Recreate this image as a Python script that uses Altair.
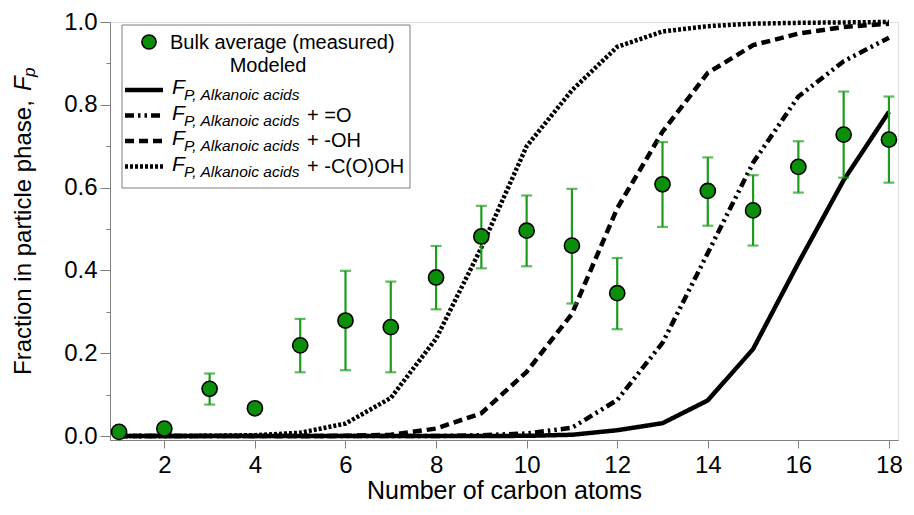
import altair as alt
import pandas as pd

# ---- data ----
carbon = list(range(1, 19))
measured = [0.010, 0.018, 0.114, 0.067, 0.219, 0.279, 0.263, 0.383, 0.482, 0.496,
            0.460, 0.345, 0.608, 0.592, 0.545, 0.650, 0.728, 0.716]
err_lo = [None, None, 0.076, None, 0.154, 0.159, 0.154, 0.306, 0.405, 0.410,
          0.320, 0.258, 0.505, 0.508, 0.460, 0.588, 0.624, 0.612]
err_hi = [None, None, 0.151, None, 0.283, 0.399, 0.373, 0.459, 0.556, 0.581,
          0.597, 0.430, 0.710, 0.673, 0.630, 0.712, 0.832, 0.820]

fp_acids = [0, 0, 0, 0, 0, 0, 0, 0, 0, 0.0005, 0.003, 0.014, 0.031, 0.086,
            0.210, 0.418, 0.618, 0.783]
fp_oxo = [0, 0, 0, 0, 0, 0, 0, 0, 0.002, 0.006, 0.020, 0.087, 0.225, 0.442,
          0.660, 0.820, 0.905, 0.962]
fp_oh = [0, 0, 0, 0, 0, 0.0005, 0.003, 0.018, 0.055, 0.155, 0.295, 0.550,
         0.735, 0.877, 0.944, 0.972, 0.988, 0.996]
fp_cooh = [0, 0, 0.0005, 0.002, 0.008, 0.030, 0.092, 0.235, 0.455, 0.700,
           0.835, 0.940, 0.977, 0.990, 0.996, 0.998, 0.999, 1.0]

series_names = ["acids", "oxo", "oh", "cooh"]
series_values = [fp_acids, fp_oxo, fp_oh, fp_cooh]
legend_suffix = ["", "+ =O", "+ -OH", "+ -C(O)OH"]

# ---- styles ----
FONT = "Liberation Sans"
dash_styles = [[1, 0], [9, 4, 2.5, 4, 2.5, 4], [9, 5], [3, 2]]
GREEN = "#0b8f0b"
BAR_GREEN = "#1c9c1c"
GRAY = "#7f7f7f"

xscale = alt.Scale(domain=[0.8, 18.2], nice=False, zero=False)
yscale = alt.Scale(domain=[-0.0096, 1.0], nice=False, zero=False)

meas_df = pd.DataFrame({"n": carbon, "fp": measured, "lo": err_lo, "hi": err_hi})

xaxis = alt.Axis(values=list(range(2, 19, 2)), title="Number of carbon atoms",
                 tickSize=8, labelPadding=5, titlePadding=1, grid=False,
                 labelFontSize=24, titleFontSize=25, labelFont=FONT, titleFont=FONT,
                 titleFontWeight="normal", labelColor="black", titleColor="black",
                 domainColor=GRAY, tickColor=GRAY, format="d")
yaxis = alt.Axis(values=[round(i * 0.1, 1) for i in range(11)],
                 title=None,
                 labelExpr="round(datum.value*10) % 2 == 0 ? format(datum.value, '.1f') : ''",
                 tickSize={"condition": {"test": "round(datum.value*10) % 2 == 0", "value": 10}, "value": 4},
                 labelPadding=3, grid=False,
                 labelFontSize=24, labelFont=FONT, labelColor="black",
                 domainColor=GRAY, tickColor=GRAY)

layers = []
for name, vals, dash in zip(series_names, series_values, dash_styles):
    df = pd.DataFrame({"n": carbon, "fp": vals})
    layers.append(
        alt.Chart(df).mark_line(color="black", strokeWidth=4.5, strokeDash=dash, strokeCap="butt")
        .encode(x=alt.X("n:Q", scale=xscale, axis=xaxis),
                y=alt.Y("fp:Q", scale=yscale, axis=yaxis))
    )

err = meas_df.dropna()
layers.append(alt.Chart(err).mark_rule(color=BAR_GREEN, strokeWidth=2.2)
              .encode(x="n:Q", y="lo:Q", y2="hi:Q"))
layers.append(alt.Chart(err).mark_tick(color=BAR_GREEN, orient="horizontal", size=11, thickness=2.2)
              .encode(x="n:Q", y="lo:Q"))
layers.append(alt.Chart(err).mark_tick(color=BAR_GREEN, orient="horizontal", size=11, thickness=2.2)
              .encode(x="n:Q", y="hi:Q"))
layers.append(alt.Chart(meas_df).mark_point(shape="circle", filled=True, fill=GREEN, stroke="black",
                                            strokeWidth=1.6, size=230, opacity=1)
              .encode(x="n:Q", y="fp:Q"))

one = pd.DataFrame({"k": [0]})

# ---- y-axis title with italic F and subscript p ----
ytitle = []
ytitle.append(alt.Chart(one).mark_text(text="Fraction in particle phase,", align="left", baseline="middle",
                                       angle=270, font=FONT, fontSize=24, color="black")
              .encode(x=alt.value(-86), y=alt.value(353)))
ytitle.append(alt.Chart(one).mark_text(text="F", align="left", baseline="middle", angle=270,
                                       font=FONT, fontSize=24, fontStyle="italic", color="black")
              .encode(x=alt.value(-86), y=alt.value(69)))
ytitle.append(alt.Chart(one).mark_text(text="p", align="left", baseline="middle", angle=270,
                                       font=FONT, fontSize=17, fontStyle="italic", color="black")
              .encode(x=alt.value(-80), y=alt.value(55)))

# ---- legend (drawn inside plot, pixel positions) ----
leg = []
leg.append(alt.Chart(one).mark_rect(fill="white", stroke=GRAY, strokeWidth=1)
           .encode(x=alt.value(12), x2=alt.value(300), y=alt.value(3), y2=alt.value(166)))
leg.append(alt.Chart(one).mark_point(shape="circle", filled=True, fill=GREEN, stroke="black",
                                     strokeWidth=1.6, size=200, opacity=1)
           .encode(x=alt.value(39), y=alt.value(20)))
leg.append(alt.Chart(one).mark_text(text="Bulk average (measured)", align="left", baseline="middle",
                                    font=FONT, fontSize=20, color="black")
           .encode(x=alt.value(60), y=alt.value(21)))
leg.append(alt.Chart(one).mark_text(text="Modeled", align="center", baseline="middle",
                                    font=FONT, fontSize=20, color="black")
           .encode(x=alt.value(158), y=alt.value(44)))
row_y = [68, 93.5, 119, 144.5]
for ry, dash, suf in zip(row_y, dash_styles, legend_suffix):
    leg.append(alt.Chart(one).mark_rule(color="black", strokeWidth=4.5, strokeDash=dash, strokeCap="butt")
               .encode(x=alt.value(15), x2=alt.value(53), y=alt.value(ry)))
    leg.append(alt.Chart(one).mark_text(text="F", align="left", baseline="middle", font=FONT,
                                        fontSize=21, fontStyle="italic", color="black")
               .encode(x=alt.value(62), y=alt.value(ry - 2)))
    leg.append(alt.Chart(one).mark_text(text="P, Alkanoic acids", align="left", baseline="middle",
                                        font=FONT, fontSize=15.5, fontStyle="italic", color="black")
               .encode(x=alt.value(74), y=alt.value(ry + 5)))
    if suf:
        leg.append(alt.Chart(one).mark_text(text=suf, align="left", baseline="middle", font=FONT,
                                            fontSize=20, color="black")
                   .encode(x=alt.value(197), y=alt.value(ry)))

chart = alt.layer(*layers, *ytitle, *leg).properties(
    width=788, height=418,
    autosize=alt.AutoSizeParams(type="none"),
    padding={"left": 102, "top": 14, "right": 8, "bottom": 67},
).configure_view(stroke=GRAY, strokeWidth=1).configure(background="white")

chart.save("out.html", embed_options={"renderer": "svg", "actions": False})
